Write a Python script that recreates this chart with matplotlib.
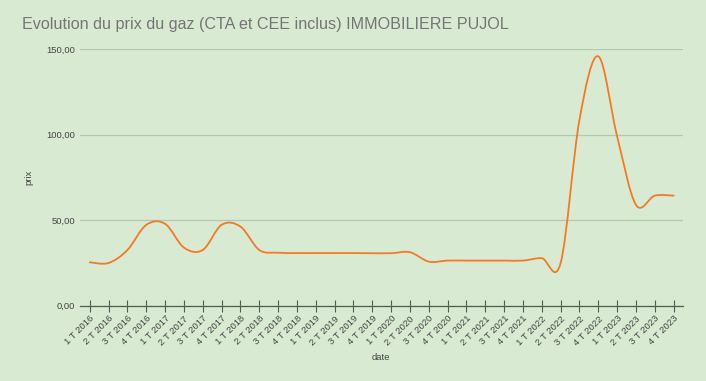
import matplotlib.pyplot as plt
import numpy as np
from matplotlib.path import Path
from matplotlib.patches import PathPatch

# quarters and gas price
years = [2016, 2017, 2018, 2019, 2020, 2021, 2022, 2023]
quarters = ['%d T %d' % (q, y) for y in years for q in range(1, 5)]
prix = [25.4, 25.0, 32.6, 47.3, 47.9, 34.0, 32.6, 47.3,
        46.3, 32.6, 31.0, 30.8, 30.8, 30.8, 30.8, 30.7,
        30.7, 31.3, 25.8, 26.4, 26.4, 26.4, 26.4, 26.4,
        27.8, 25.0, 108.8, 145.9, 99.0, 59.0, 64.4, 64.4]

bg = '#d9ead3'
orange = '#f37a22'


def smooth_path(xs, ys):
    # catmull-rom segments turned into cubic bezier curves
    xs = np.asarray(xs, float)
    ys = np.asarray(ys, float)
    n = len(xs)
    verts = [(xs[0], ys[0])]
    codes = [Path.MOVETO]
    for i in range(n - 1):
        i0 = max(i - 1, 0)
        i3 = min(i + 2, n - 1)
        c1 = (xs[i] + (xs[i + 1] - xs[i0]) / 6, ys[i] + (ys[i + 1] - ys[i0]) / 6)
        c2 = (xs[i + 1] - (xs[i3] - xs[i]) / 6, ys[i + 1] - (ys[i3] - ys[i]) / 6)
        verts += [c1, c2, (xs[i + 1], ys[i + 1])]
        codes += [Path.CURVE4] * 3
    return Path(verts, codes)


plt.rcParams['font.family'] = ['Liberation Sans', 'DejaVu Sans']

fig = plt.figure(figsize=(7.06, 3.81), dpi=100, facecolor=bg)
ax = fig.add_axes([0.113, 0.1976, 0.854, 0.673], facecolor=bg)

x = np.arange(len(quarters))
ax.add_patch(PathPatch(smooth_path(x, prix), fill=False, edgecolor=orange,
                       lw=1.3, capstyle='round', joinstyle='round', zorder=3))

ax.set_xlim(-0.53, 31.48)
ax.set_ylim(0, 150)
ax.set_yticks([0, 50, 100, 150])
ax.set_yticklabels(['0,00', '50,00', '100,00', '150,00'])
ax.set_xticks(x)
ax.set_xticklabels(quarters, rotation=45, ha='right', rotation_mode='anchor')

ax.grid(axis='y', color='#b4c8b0', lw=0.9)
ax.set_axisbelow(True)
for s in ['top', 'right', 'left']:
    ax.spines[s].set_visible(False)
ax.spines['bottom'].set_color('#4f5f4f')
ax.spines['bottom'].set_linewidth(0.9)
ax.spines['bottom'].set_zorder(4)

ax.tick_params(axis='y', length=0, pad=3.5, labelsize=6.8, labelcolor='#444444')
ax.tick_params(axis='x', direction='inout', length=8, width=0.8, color='#4f5f4f',
               pad=2, labelsize=6.8, labelcolor='#444444')

ax.set_xlabel('date', fontsize=6.8, color='#444444', labelpad=4)
ax.set_ylabel('prix', fontsize=6.8, color='#444444', labelpad=9)

fig.text(0.031, 0.937, 'Evolution du prix du gaz (CTA et CEE inclus) IMMOBILIERE PUJOL',
         fontsize=11.6, color='#757575', va='center', ha='left')

fig.savefig('out.png', dpi=100, facecolor=bg)
